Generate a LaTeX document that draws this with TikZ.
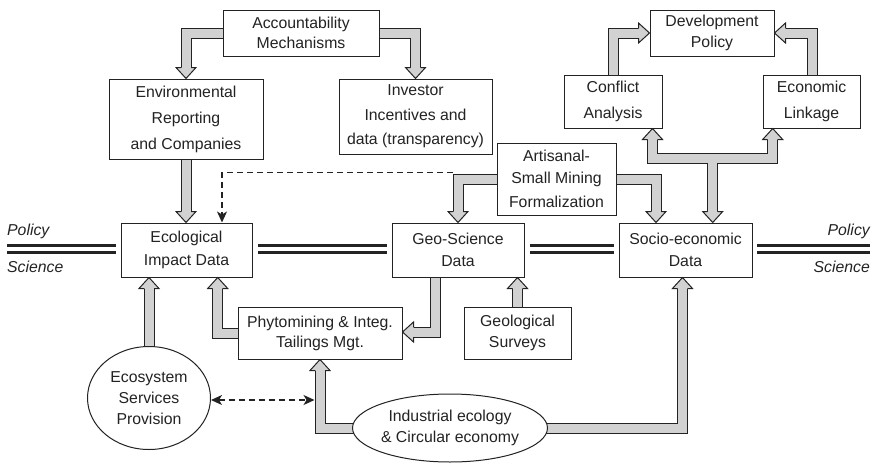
\documentclass[tikz,border=0pt]{standalone}
\usepackage{fontspec}
\setmainfont{Liberation Sans}
\usetikzlibrary{shapes.geometric,arrows.meta,backgrounds,calc}
\definecolor{shaftgray}{RGB}{210,210,210}
\definecolor{edge}{RGB}{35,35,35}
\tikzset{
  x=1pt, y=-1pt,
  txt/.style={font=\fontsize{15.8}{20}\selectfont, align=center, text=edge},
  box/.style={txt, draw=edge, line width=1pt, fill=white, inner sep=0pt},
  oval/.style={txt, ellipse, draw=edge, line width=1pt, fill=white, inner sep=0pt},
  outerline/.style={draw=edge, line width=11pt, line join=miter},
  innerline/.style={draw=shaftgray, line width=9pt, line join=miter},
  dashedarrow/.style={draw=edge, line width=1.3pt, dash pattern=on 6pt off 4pt, -{Stealth[length=11pt,width=10pt,inset=3pt]}},
  pline/.style={draw=edge, line width=2.2pt},
  side/.style={font=\fontsize{15.8}{20}\selectfont\itshape, text=edge, inner sep=0pt},
  hh/.pic={
    \fill[shaftgray] (0,0) -- (-11,10) -- (-11,-10) -- cycle;
    \draw[edge, line width=1pt, line join=miter] (-11,5) -- (-11,10) -- (0,0) -- (-11,-10) -- (-11,-5);
  }
}
\newcommand\allshafts[1]{%
  \draw[#1, shorten >=10pt] (acc.west) -| (env.north);
  \draw[#1, shorten >=10pt] (acc.east) -| (inv.north);
  \draw[#1, shorten >=10pt] (env.south) -- (env.south |- ecol.north);
  \draw[#1, shorten >=10pt] (art.west) -| (geo.north);
  \draw[#1, shorten >=10pt] (art.east) -| ([xshift=-29.5pt]soc.north);
  \draw[#1, shorten >=10pt] (con.north) |- (dev.west);
  \draw[#1, shorten >=10pt] ([xshift=1.2pt]eco.north) |- (dev.east);
  \draw[#1, shorten <=10pt, shorten >=10pt] ([xshift=39.5pt]con.south) |- (J) -| ([xshift=-38.8pt]eco.south);
  \draw[#1, shorten >=10pt] (J) -- ([xshift=27.2pt]soc.north);
  \draw[#1, shorten >=10pt] ([yshift=-3pt]ecosys.north) -- (ecosys.north |- ecol.south);
  \draw[#1, shorten >=10pt] (phy.west) -| ([xshift=31.2pt]ecol.south);
  \draw[#1, shorten >=10pt] ([xshift=-23pt]geo.south) |- ([yshift=1pt]phy.east);
  \draw[#1, shorten >=10pt] (gs.north) -- (gs.north |- geo.south);
  \draw[#1, shorten >=10pt] ([xshift=3pt]ind.west) -| (phy.south);
  \draw[#1, shorten >=10pt] ([xshift=-3pt]ind.east) -| ([xshift=-3pt]soc.south);
}
\begin{document}
\begin{tikzpicture}
\useasboundingbox (0,0) rectangle (875,463);

% boxes
\node[box, minimum width=156pt, minimum height=46pt] (acc) at (301,33) {Accountability\\Mechanisms};
\node[box, minimum width=154pt, minimum height=80pt] (env) at (186,119) {Environmental\\[6pt]Reporting\\[6pt]and Companies};
\node[box, minimum width=153pt, minimum height=75pt] (inv) at (415.5,116.5) {Investor\\[5pt]Incentives and\\[4pt]data (transparency)};
\node[box, minimum width=124pt, minimum height=46pt] (dev) at (712,33) {Development\\[1pt]Policy};
\node[box, minimum width=98pt, minimum height=53pt] (con) at (613,101.5) {Conflict\\[6.7pt]Analysis};
\node[box, minimum width=97pt, minimum height=53pt] (eco) at (811.5,101.5) {Economic\\[6.7pt]Linkage};
\node[box, minimum width=119pt, minimum height=72pt] (art) at (556.5,179) {Artisanal-\\[1.5pt]Small Mining\\[4pt]Formalization};
\node[box, minimum width=131pt, minimum height=54pt] (ecol) at (186.5,250) {Ecological\\[2.3pt]Impact Data};
\node[box, minimum width=132pt, minimum height=54pt] (geo) at (458,250) {Geo-Science\\[2.3pt]Data};
\node[box, minimum width=133pt, minimum height=54pt] (soc) at (685.5,250) {Socio-economic\\[2.3pt]Data};
\node[box, minimum width=164pt, minimum height=52pt] (phy) at (320,333) {Phytomining \& Integ.\\Tailings Mgt.};
\node[box, minimum width=107pt, minimum height=52pt] (gs) at (517.5,333) {Geological\\[1.7pt]Surveys};
\node[oval, minimum width=123pt, minimum height=103pt] (ecosys) at (149,398) {Ecosystem\\[1pt]Services\\[1pt]Provision};
\node[oval, minimum width=176pt, minimum height=68pt] (ind) at (450,428) {Industrial ecology\\[0.7pt]\& Circular economy};

\coordinate (J) at (712.7,158.7);
\coordinate (dstart) at (452.5,172.5);
\coordinate (dend) at (314.5,400);

% hollow arrows behind boxes
\begin{scope}[on background layer]
  \allshafts{outerline}
  \allshafts{innerline}
\end{scope}

% arrow heads
\path (env.north) pic[rotate=-90] {hh};
\path (inv.north) pic[rotate=-90] {hh};
\path (env.south |- ecol.north) pic[rotate=-90] {hh};
\path (geo.north) pic[rotate=-90] {hh};
\path ([xshift=-29.5pt]soc.north) pic[rotate=-90] {hh};
\path (dev.west) pic {hh};
\path (dev.east) pic[rotate=180] {hh};
\path ([xshift=39.5pt]con.south) pic[rotate=90] {hh};
\path ([xshift=-38.8pt]eco.south) pic[rotate=90] {hh};
\path ([xshift=27.2pt]soc.north) pic[rotate=-90] {hh};
\path (ecosys.north |- ecol.south) pic[rotate=90] {hh};
\path ([xshift=31.2pt]ecol.south) pic[rotate=90] {hh};
\path ([yshift=1pt]phy.east) pic[rotate=180] {hh};
\path (gs.north |- geo.south) pic[rotate=90] {hh};
\path (phy.south) pic[rotate=90] {hh};
\path ([xshift=-3pt]soc.south) pic[rotate=90] {hh};

% dashed connectors
\draw[dashedarrow] (dstart) -| ([xshift=35.5pt]ecol.north);
\draw[dashedarrow, {Stealth[length=11pt,width=10pt,inset=3pt]}-{Stealth[length=11pt,width=10pt,inset=3pt]}] (ecosys.east |- dend) -- (dend);

% policy / science divide
\foreach \yy in {245.5,252.5}{
  \draw[pline] (7,\yy) -- (115.7,\yy);
  \draw[pline] (258,\yy) -- (386.7,\yy);
  \draw[pline] (529.5,\yy) -- (614,\yy);
  \draw[pline] (757,\yy) -- (870,\yy);
}
\node[side, anchor=base west] (pl) at (7,235) {Policy};
\node[side, anchor=base west] (sl) at (7,272.5) {Science};
\node[side, anchor=base east] (pr) at (870,235) {Policy};
\node[side, anchor=base east] (sr) at (870,272.5) {Science};
\end{tikzpicture}
\end{document}
